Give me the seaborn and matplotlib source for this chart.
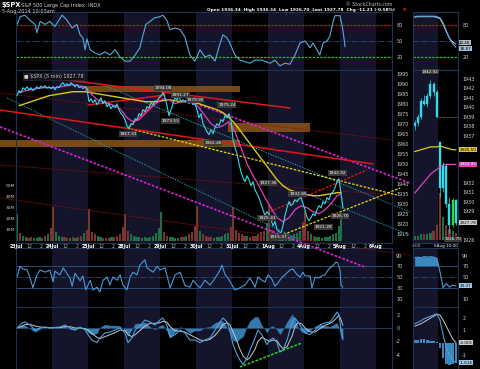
import numpy as np
import pandas as pd
import matplotlib
matplotlib.use("Agg")
import matplotlib.pyplot as plt
from matplotlib.patches import Rectangle
import seaborn as sns

sns.set_theme(style="dark")
plt.rcParams['font.family'] = ['DejaVu Sans']

# ---------------- DATA ----------------
days = ["23Jul", "24Jul", "25Jul", "28Jul", "29Jul", "30Jul", "31Jul", "1Aug", "4Aug", "5Aug", "6Aug"]

# price, 18 samples per trading day
p_0723 = [1984, 1986.5, 1985.5, 1988, 1987, 1988.5, 1987, 1988, 1986.5, 1987.5, 1988.5, 1987.5, 1988.8, 1988, 1989, 1987.8, 1988.5, 1987.5]
p_0724 = [1988.5, 1987, 1988.5, 1988, 1989.5, 1990.5, 1989, 1990, 1989, 1990.5, 1989.5, 1988.5, 1989.5, 1988, 1988.5, 1987.5, 1988.5, 1987.5]
p_0725 = [1981, 1982.5, 1980.5, 1982, 1979.5, 1981, 1983, 1980, 1981.5, 1978.5, 1980, 1977.5, 1979, 1978, 1980, 1977, 1975, 1974]
p_0728 = [1972, 1969, 1967.5, 1970, 1969.5, 1972.5, 1972, 1975, 1974, 1977, 1976, 1978.5, 1978, 1980.5, 1979.5, 1981.5, 1981, 1983]
p_0729 = [1984, 1985.5, 1983, 1979, 1974, 1977, 1980, 1983, 1982, 1983.5, 1981, 1982, 1981, 1982.5, 1980, 1981.5, 1979.5, 1980]
p_0730 = [1977, 1973, 1975, 1970, 1968, 1966, 1964.5, 1967, 1965, 1968, 1970, 1969, 1972, 1971, 1974, 1973, 1975, 1972]
p_0731 = [1962, 1958, 1955, 1950, 1946, 1943, 1941, 1944, 1942, 1939, 1941, 1937, 1935, 1933, 1930, 1927, 1924, 1926]
p_0801 = [1925, 1922, 1919, 1921, 1917, 1916, 1915.5, 1919, 1924, 1928, 1931, 1929, 1930, 1932, 1931, 1932.5, 1933, 1930]
p_0804 = [1927, 1923, 1921.5, 1923, 1925, 1924, 1927, 1929, 1928, 1931, 1930, 1933, 1932, 1935, 1936, 1938, 1941, 1942.5]
p_0805 = [1935, 1927.78]

# moving averages, 6 samples per day
ma_fast = [1985.5, 1986.5, 1987, 1987.5, 1988, 1988,
           1988, 1988.5, 1989, 1989.5, 1989, 1988.5,
           1985, 1982, 1981, 1980, 1979, 1977,
           1973, 1971, 1972, 1975, 1978, 1980.5,
           1982.5, 1982, 1980, 1981, 1981, 1981,
           1978, 1974, 1970, 1968, 1969, 1971,
           1966, 1958, 1950, 1944, 1939, 1933,
           1928, 1923, 1921, 1923, 1927, 1929,
           1928, 1926, 1925, 1927, 1930, 1934,
           1935]
ma_slow = [1979, 1980, 1981, 1982, 1983, 1984,
           1984.5, 1985, 1985.5, 1986, 1986, 1986,
           1985.5, 1985, 1984.5, 1984, 1983.5, 1983,
           1982.5, 1982, 1981.5, 1981, 1981, 1981,
           1981.5, 1982, 1981.5, 1981, 1981, 1980.5,
           1980, 1979, 1978, 1977, 1975.5, 1973,
           1970, 1966, 1962, 1958, 1954, 1950,
           1946, 1942, 1939, 1937, 1936, 1935,
           1934.5, 1934, 1934, 1934.5, 1935, 1935.5,
           1935.5]

# volume (millions), 13 half-hour bars per day
vol_days = [
    [25, 7, 5, 4, 3, 4, 3, 3, 4, 3, 5, 6, 12],
    [31, 8, 5, 4, 4, 3, 3, 4, 3, 4, 5, 7, 10],
    [29, 8, 6, 5, 4, 3, 3, 3, 4, 4, 5, 6, 13],
    [25, 9, 6, 5, 4, 4, 3, 4, 3, 4, 5, 7, 12],
    [26, 8, 5, 4, 4, 3, 3, 4, 4, 5, 6, 8, 14],
    [32, 9, 6, 5, 4, 4, 3, 4, 4, 5, 6, 7, 13],
    [31, 10, 7, 6, 5, 5, 4, 5, 5, 6, 8, 9, 16],
    [33, 10, 7, 6, 5, 5, 4, 5, 5, 6, 7, 9, 17],
    [27, 9, 6, 5, 4, 4, 3, 4, 4, 5, 6, 7, 14],
    [25],
]
vol_ticks = [10, 20, 30, 40, 50]

# top indicator
top_t = [0.03, 0.11, 0.25, 0.39, 0.53, 0.58, 0.67, 0.81, 0.94, 1.08, 1.28, 1.42, 1.56, 1.69, 1.78, 1.86, 1.92, 1.97,
         2.06, 2.19, 2.33, 2.47, 2.61, 2.75, 2.89, 3.03, 3.17, 3.31, 3.44, 3.53, 3.61, 3.72, 3.86, 4.0, 4.08, 4.19,
         4.28, 4.42, 4.56, 4.69, 4.83, 4.97, 5.11, 5.25, 5.39, 5.53, 5.67, 5.75, 5.86, 5.94, 6.08, 6.22, 6.36, 6.5,
         6.64, 6.83, 7.06, 7.19, 7.33, 7.47, 7.61, 7.75, 7.89, 8.03, 8.17, 8.25, 8.36, 8.44, 8.53, 8.64, 8.72, 8.81,
         8.86, 9.0, 9.08, 9.14]
top_v = [82, 97, 100, 90, 82, 66, 88, 82, 88, 78, 100, 90, 75, 82, 62, 56, 33, 54,
         33, 27, 23, 29, 23, 33, 19, 11, 11, 23, 37, 62, 82, 88, 95, 97, 100, 90,
         72, 75, 72, 58, 23, 11, 33, 19, 23, 11, 46, 62, 56, 46, 23, 13, 10, 7,
         13, 13, 7, 13, 2, 7, 5, 23, 46, 50, 37, 46, 33, 23, 46, 50, 60, 88,
         99, 99, 72, 39]

# RSI
rsi_t = [0.03, 0.11, 0.19, 0.31, 0.39, 0.47, 0.58, 0.67, 0.81, 0.94, 1.03, 1.08, 1.22, 1.31, 1.42, 1.5, 1.56, 1.64,
         1.78, 1.86, 1.94, 2.06, 2.14, 2.25, 2.33, 2.42, 2.53, 2.61, 2.69, 2.81, 2.89, 2.97, 3.08, 3.17, 3.25, 3.36,
         3.44, 3.58, 3.64, 3.72, 3.81, 3.92, 4.0, 4.14, 4.28, 4.42, 4.56, 4.69, 4.83, 4.92, 5.03, 5.11, 5.25, 5.39,
         5.53, 5.67, 5.72, 5.81, 5.89, 6.0, 6.08, 6.22, 6.36, 6.5, 6.64, 6.72, 6.83, 6.92, 7.0, 7.11, 7.19, 7.28,
         7.39, 7.47, 7.61, 7.69, 7.81, 7.89, 7.97, 8.03, 8.17, 8.22, 8.31, 8.39, 8.5, 8.58, 8.67, 8.72, 8.81, 8.89,
         8.94, 9.0, 9.03, 9.08]
rsi_v = [50, 70, 65, 63, 48, 30, 54, 63, 59, 63, 41, 61, 54, 67, 56, 48, 33, 57,
         43, 52, 26, 44, 26, 31, 22, 44, 50, 35, 50, 44, 54, 35, 26, 50, 59, 54,
         72, 82, 67, 63, 59, 70, 63, 67, 30, 54, 59, 35, 31, 44, 35, 30, 44, 35,
         48, 63, 72, 54, 48, 35, 26, 30, 35, 48, 31, 50, 44, 41, 54, 46, 33, 39,
         50, 54, 63, 65, 54, 50, 59, 52, 52, 30, 50, 48, 52, 54, 63, 67, 72, 78,
         76, 63, 35, 31]

# MACD
macd_t = [0.03, 0.17, 0.25, 0.39, 0.53, 0.67, 0.81, 0.94, 1.22, 1.36, 1.5, 1.64, 1.78, 1.92, 2.0, 2.11, 2.25, 2.33,
          2.47, 2.61, 2.75, 2.89, 3.03, 3.11, 3.22, 3.31, 3.44, 3.58, 3.72, 3.86, 4.0, 4.08, 4.19, 4.28, 4.42, 4.56,
          4.69, 4.83, 4.97, 5.11, 5.25, 5.39, 5.53, 5.67, 5.75, 5.86, 5.94, 6.03, 6.14, 6.22, 6.31, 6.42, 6.5, 6.64,
          6.72, 6.83, 6.97, 7.06, 7.14, 7.25, 7.33, 7.42, 7.53, 7.67, 7.75, 7.83, 7.94, 8.03, 8.17, 8.31, 8.44, 8.58,
          8.72, 8.81, 8.92, 8.97, 9.03, 9.08]
macd_v = [0, 0.75, 0.9, 0.45, -0.3, 0, 0.15, 0, 0.15, 0.45, 0, -0.3, 0.15, -0.3, -1, -1.8, -2.2, -1.5,
          -0.75, -0.6, -0.3, 0, -0.75, -2.2, -1.5, -0.3, 0.3, 1.2, 0.9, 0.45, 1.2, 1.5, 0.45, -1.35, -1, -0.3,
          -0.75, -1.8, -1.8, -2.2, -1.8, -1.5, -0.3, 0.9, 1.5, 0.9, -0.3, -2.5, -4, -4.8, -5.5, -4.5, -3.3, -1.5,
          -0.3, -1, -2.5, -1.8, -1.5, -2.2, -3.6, -3.3, -1.8, 0.9, 1.5, 0.9, 0, -0.75, -1, -0.3, 0.45, 0.75,
          0.9, 1.5, 2.4, 2, -0.3, -1.5]
signal_v = [0, 0.3, 0.5, 0.55, 0.3, 0.15, 0.1, 0.05, 0.05, 0.2, 0.2, 0, 0, -0.1, -0.3, -0.8, -1.4, -1.6,
            -1.3, -1.0, -0.7, -0.3, -0.4, -1.0, -1.3, -1.0, -0.4, 0.3, 0.7, 0.7, 0.8, 1.0, 0.9, 0.2, -0.4, -0.5,
            -0.6, -1.0, -1.4, -1.8, -1.9, -1.7, -1.1, -0.2, 0.5, 0.8, 0.5, -0.6, -2.0, -3.2, -4.2, -4.8, -4.4, -3.2,
            -2.0, -1.4, -1.8, -2.0, -1.8, -1.9, -2.6, -3.1, -2.8, -1.2, 0.2, 0.8, 0.6, 0.0, -0.6, -0.6, -0.1, 0.4,
            0.7, 1.0, 1.6, 1.9, 1.2, 0.4]

# mini chart (4Aug afternoon + 5Aug open)
mini_open = [1938.0, 1938.3, 1939.0, 1940.7, 1940.3, 1941.2, 1942.5, 1941.6, 1936.3, 1931.5, 1933.8, 1929.8, 1927.5, 1930.2]
mini_high = [1938.6, 1939.3, 1941.0, 1941.3, 1941.5, 1942.92, 1942.7, 1941.8, 1936.34, 1934.2, 1934.0, 1930.5, 1930.4, 1930.3]
mini_low = [1937.6, 1938.0, 1938.8, 1940.2, 1940.0, 1941.0, 1941.2, 1939.0, 1930.5, 1931.0, 1929.4, 1926.70, 1927.3, 1927.5]
mini_close = [1938.3, 1939.0, 1940.7, 1940.3, 1941.2, 1942.5, 1941.6, 1939.0, 1931.5, 1933.8, 1929.8, 1927.5, 1930.2, 1927.78]
mini_ma_slow = [1935.3, 1935.4, 1935.5, 1935.6, 1935.7, 1935.8, 1935.8, 1935.8, 1935.9, 1935.8, 1935.7, 1935.6, 1935.5, 1935.5]
mini_ma_fast = [1930.9, 1931.3, 1931.7, 1932.1, 1932.5, 1932.9, 1933.2, 1933.4, 1933.7, 1933.9, 1933.95, 1933.95, 1933.95, 1933.95]
mini_vol = [2, 2, 3, 3, 3, 4, 5, 8, 25, 12, 8, 6, 5, 4]
mini_top_a = [97, 98, 98, 98, 98, 98, 98, 97, 95, 85, 70, 55, 45, 38]
mini_top_b = [96, 97, 97, 97, 97, 97, 97, 96, 93, 82, 68, 56, 48, 44]
mini_rsi = [86, 87, 86, 88, 87, 88, 87, 85, 60, 30, 38, 31, 35, 33.37]
mini_macd = [1.5, 1.6, 1.75, 1.9, 2.0, 2.1, 2.2, 2.3, 1.8, 0.6, -0.4, -1.0, -1.4, -1.614]
mini_signal = [1.3, 1.4, 1.5, 1.65, 1.8, 1.95, 2.1, 2.25, 2.2, 1.8, 1.3, 0.8, 0.3, -0.001]

# drawn trendlines: (t0, p0, t1, p1)
red_lines = [(1.42, 1991.85, 7.61, 1977.85), (-0.44, 1976.85, 9.92, 1949.85),
             (3.11, 1967.85, 4.14, 1985.35), (2.0, 1979.35, 4.14, 1984.35)]
red_dash_lines = [(6.97, 1925.35, 9.75, 1946.85)]
darkred_lines = [(-0.44, 1985.35, 10.44, 1961.85), (-0.44, 1949.35, 10.44, 1934.35),
                 (-0.44, 1932.85, 10.94, 1904.35)]
magenta_lines = [(5.11, 1979.35, 10.94, 1940.35), (-0.44, 1968.35, 9.69, 1898.35)]
teal_lines = [(-0.25, 1982.85, 7.89, 1911.85), (2.42, 1989.35, 10.94, 1925.85), (8.17, 1934.35, 10.94, 1914.35)]
yellow_lines = [(3.08, 1967.85, 10.58, 1934.35), (7.33, 1913.85, 10.67, 1937.85)]
zones = [(1.92, 6.22, 1985.85, 1988.85), (5.89, 8.17, 1965.85, 1970.35), (-0.44, 6.22, 1958.35, 1961.85)]
price_labels = [("1994.08", 4.08, 1987.9), ("1991.27", 4.56, 1984.4), ("1979.90", 4.97, 1981.9),
                ("1975.24", 5.86, 1979.4), ("1973.53", 4.28, 1971.4), ("1967.31", 3.11, 1964.9),
                ("1962.46", 5.47, 1960.4), ("1927.36", 7.0, 1940.4), ("1932.85", 7.83, 1934.9),
                ("1925.41", 6.97, 1922.9), ("1921.28", 8.53, 1918.4), ("1915.37", 7.28, 1913.4),
                ("1942.92", 8.92, 1945.4), ("1926.70", 9.0, 1923.9)]

# ---------------- FIGURE ----------------
W, H = 480, 369
fig = plt.figure(figsize=(4.8, 3.69), dpi=100, facecolor='black')
SP = '#1d3352'
SHADE = '#14142a'
TXT = '#d0d0d0'
FS = 3.5


def axpx(x0, y0, x1, y1, face='black'):
    ax = fig.add_axes([x0 / W, 1 - y1 / H, (x1 - x0) / W, (y1 - y0) / H])
    ax.set_facecolor(face)
    ax.grid(False)
    for s in ax.spines.values():
        s.set_color(SP)
        s.set_linewidth(0.8)
    ax.set_xticks([])
    ax.set_yticks([])
    return ax


def right_labels(ax, ticks, labels=None):
    ax.yaxis.tick_right()
    ax.set_yticks(ticks)
    ax.set_yticklabels(labels if labels is not None else [str(t) for t in ticks])
    ax.tick_params(axis='y', colors=TXT, labelsize=FS, length=0, pad=3)


LX0, LX1 = 16, 392
RX0, RX1 = 413, 458
XMAX = (LX1 - LX0) / 36.0


def shade_days(ax):
    for d in range(1, 11, 2):
        ax.axvspan(d, d + 1, color=SHADE, lw=0, zorder=0)


# --- top indicator
ax_top = axpx(LX0, 12, LX1, 70)
ax_top.set_xlim(0, XMAX)
ax_top.set_ylim(-6.1, 106.1)
shade_days(ax_top)
ax_top.axhline(80, color='#d01010', ls=(0, (2, 1)), lw=0.9)
ax_top.axhline(50, color='#2a4d78', ls='-.', lw=0.6)
ax_top.axhline(20, color='#20c020', ls=(0, (2, 1)), lw=0.9)
sns.lineplot(x=top_t, y=top_v, ax=ax_top, color='#5aa8e0', lw=0.8, estimator=None, sort=False)
right_labels(ax_top, [20, 50, 80])

# --- volume + shading under price
ax_vol = axpx(LX0, 70, LX1, 243)
ax_vol.set_xlim(0, XMAX)
ax_vol.set_ylim(-1.8, 155.5)
shade_days(ax_vol)
all_price = p_0723 + p_0724 + p_0725 + p_0728 + p_0729 + p_0730 + p_0731 + p_0801 + p_0804
pt = [d + (k + 0.5) / 18 for d in range(9) for k in range(18)]
vt, vv, vc = [], [], []
for d, vals in enumerate(vol_days):
    for k, v in enumerate(vals):
        vt.append(d + (k + 0.5) / 13)
        vv.append(v)
for t in vt:
    a = np.interp(t - 0.5 / 13, pt, all_price)
    b = np.interp(t + 0.5 / 13, pt, all_price)
    vc.append('#1b7246' if b >= a else '#7a3530')
ax_vol.bar(vt, vv, width=1 / 13 * 0.8, color=vc, lw=0, zorder=2)
for v in vol_ticks:
    ax_vol.annotate(f"{v}M", xy=(0, v), xycoords=ax_vol.get_yaxis_transform(), xytext=(-1, 0),
                    textcoords='offset points', ha='right', va='center', color=TXT, fontsize=3.2,
                    annotation_clip=False)

# --- price axes (transparent, above everything)
ax_p = axpx(LX0, 70, LX1, 243, face='none')
ax_p.set_zorder(20)
ax_p.set_xlim(0, XMAX)
ax_p.set_ylim(1910.35, 1996.85)

for (t0, t1, pa, pb) in zones:
    ax_p.add_patch(Rectangle((t0, pa), t1 - t0, pb - pa, color='#8a5518', alpha=0.85, lw=0, clip_on=False, zorder=1))


def seg(lines, **kw):
    for (t0, p0, t1, p1) in lines:
        ax_p.plot([t0, t1], [p0, p1], clip_on=False, **kw)


seg(darkred_lines, color='#8c1010', lw=0.7, ls=(0, (1.5, 1.2)), zorder=2)
seg(teal_lines, color='#1c9aa8', lw=0.7, ls=(0, (1.5, 1.2)), zorder=2)
seg(magenta_lines, color='#e020e0', lw=1.2, ls=(0, (1.5, 1)), zorder=3)
seg(yellow_lines, color='#e8dc10', lw=0.9, ls=(0, (2, 1.2)), zorder=3)
seg(red_lines, color='#e01818', lw=1.1, zorder=3)
seg(red_dash_lines, color='#e01818', lw=0.9, ls=(0, (2, 1.2)), zorder=3)

ma_t = [d + (k + 0.5) / 6 for d in range(9) for k in range(6)] + [9.03]
sns.lineplot(x=ma_t, y=ma_slow, ax=ax_p, color='#d8c81c', lw=1.0, estimator=None, sort=False, zorder=4)
sns.lineplot(x=ma_t, y=ma_fast, ax=ax_p, color='#e040c0', lw=0.9, estimator=None, sort=False, zorder=4)
price_t = pt + [9 + 0.5 / 18, 9 + 1.5 / 18]
price_v = all_price + p_0805
sns.lineplot(x=price_t, y=price_v, ax=ax_p, color='#35d8e8', lw=0.8, estimator=None, sort=False, zorder=5)

for txt, t, p in price_labels:
    ax_p.text(t, p, txt, color='white', fontsize=3.1, ha='center', va='center', zorder=6,
              bbox=dict(boxstyle='square,pad=0.15', fc='#3a3a3a', ec='none'))

ax_p.text(0.02, 0.975, "\u25a0 $SPX (5 min) 1927.78", transform=ax_p.transAxes, color=TXT, fontsize=3.5,
          va='top', ha='left', bbox=dict(boxstyle='square,pad=0.2', fc='#101018', ec='#333344', lw=0.4))
right_labels(ax_p, list(range(1915, 2000, 5)))

# x labels
ticks, labs = [], []
for d, name in enumerate(days):
    ticks += [d, d + 2.5 / 6.5, d + 4.5 / 6.5]
    labs += [name, "12", "2"]
for t, l in zip(ticks, labs):
    if t <= XMAX - 0.2:
        ax_p.text(t, -0.006, l, transform=ax_p.get_xaxis_transform(), ha='center', va='top',
                  color='white' if len(l) > 2 else '#b0b0b0', fontsize=3.4,
                  fontweight='bold' if len(l) > 2 else 'normal')

# --- RSI
ax_r = axpx(LX0, 248, LX1, 307)
ax_r.set_xlim(0, XMAX)
ax_r.set_ylim(-5.8, 104)
shade_days(ax_r)
ax_r.axhline(70, color='#2a4d78', lw=0.7)
ax_r.axhline(30, color='#2a4d78', lw=0.7)
ax_r.axhline(50, color='#2a4d78', ls='-.', lw=0.6)
sns.lineplot(x=rsi_t, y=rsi_v, ax=ax_r, color='#4a9ad8', lw=0.8, estimator=None, sort=False)
right_labels(ax_r, [10, 30, 50, 70, 90])

# --- MACD
ax_m = axpx(LX0, 307, LX1, 369)
ax_m.set_xlim(0, XMAX)
ax_m.set_ylim(-6.15, 3.15)
shade_days(ax_m)
hist = np.array(macd_v) - np.array(signal_v)
ax_m.fill_between(macd_t, 0, hist, color='#3a88c0', lw=0, alpha=0.9)
ax_m.axhline(0, color='#2a4d78', lw=0.5)
sns.lineplot(x=macd_t, y=signal_v, ax=ax_m, color='#c8c8c8', lw=0.7, estimator=None, sort=False)
sns.lineplot(x=macd_t, y=macd_v, ax=ax_m, color='#4aa0e0', lw=0.8, estimator=None, sort=False)
ax_m.plot([6.22, 7.94], [-5.85, -2.25], color='#30e030', lw=1.0, ls=(0, (2, 1)))
right_labels(ax_m, [-4, -2, 0, 2])

# ---------------- MINI CHARTS ----------------
n = len(mini_close)
mx = np.arange(n)
MXL = (-0.5, n - 0.3)


def mshade(ax):
    ax.axvspan(-0.5, 7.5, color=SHADE, lw=0, zorder=0)


def value_box(ax, val, txt, fc, tc='black'):
    ax.text(1.03, val, txt, transform=ax.get_yaxis_transform(), color=tc, fontsize=3.0, va='center',
            ha='left', bbox=dict(boxstyle='square,pad=0.12', fc=fc, ec='none'), zorder=30)


am_top = axpx(RX0, 12, RX1, 70)
am_top.set_xlim(*MXL)
am_top.set_ylim(-6.1, 106.1)
mshade(am_top)
am_top.axhline(80, color='#d01010', ls=(0, (2, 1)), lw=0.9)
am_top.axhline(50, color='#2a4d78', ls='-.', lw=0.6)
am_top.axhline(20, color='#20c020', ls=(0, (2, 1)), lw=0.9)
sns.lineplot(x=mx, y=mini_top_b, ax=am_top, color='#c8c8c8', lw=0.7, estimator=None)
sns.lineplot(x=mx, y=mini_top_a, ax=am_top, color='#5aa8e0', lw=0.8, estimator=None)
right_labels(am_top, [20, 80])
value_box(am_top, mini_top_b[-1] + 3, "44.48", '#bbbbbb')
value_box(am_top, mini_top_a[-1] - 3, "38.87", '#9fc4e0')

am_v = axpx(RX0, 70, RX1, 243)
am_v.set_xlim(*MXL)
am_v.set_ylim(-1.5, 90)
mshade(am_v)
mcol = ['#1b7246' if c >= o else '#7a3530' for o, c in zip(mini_open, mini_close)]
am_v.bar(mx, mini_vol, width=0.7, color=mcol, lw=0)

am_p = axpx(RX0, 70, RX1, 243, face='none')
am_p.set_zorder(20)
am_p.set_xlim(*MXL)
am_p.set_ylim(1925.63, 1943.94)
sns.lineplot(x=mx, y=mini_ma_slow, ax=am_p, color='#d8c81c', lw=0.9, estimator=None)
sns.lineplot(x=mx, y=mini_ma_fast, ax=am_p, color='#e040c0', lw=0.9, estimator=None)
am_p.plot([7, n - 0.3], [mini_close[7], mini_close[7]], color='#aaaaaa', lw=0.5, ls=(0, (1, 1)))
for i in range(n):
    c = '#30e030' if i == 12 else '#35d8e8'
    am_p.vlines(mx[i], mini_low[i], mini_high[i], color=c, lw=0.5)
    lo, hi = sorted([mini_open[i], mini_close[i]])
    am_p.add_patch(Rectangle((mx[i] - 0.3, lo), 0.6, max(hi - lo, 0.08), fc=c, ec=c, lw=0.3))
am_p.text(5, 1942.92 + 0.6, "1942.92", color='white', fontsize=3.0, ha='center', va='bottom',
          bbox=dict(boxstyle='square,pad=0.12', fc='#3a3a3a', ec='none'))
am_p.text(n - 1.8, 1926.05, "1926.70", color='white', fontsize=3.0, ha='center', va='center',
          bbox=dict(boxstyle='square,pad=0.12', fc='#3a3a3a', ec='none'))
mt = [v for v in range(1926, 1944) if v not in (1927, 1928, 1933, 1934, 1935, 1936)]
right_labels(am_p, mt)
value_box(am_p, mini_ma_slow[-1], "1935.50", '#d8c81c')
value_box(am_p, mini_ma_fast[-1], "1933.95", '#e040c0', 'white')
value_box(am_p, mini_close[-1], "1927.78", '#cccccc')
fig.text(412 / W, 1 - 244 / H, "3:00", color=TXT, fontsize=3.0, ha='left', va='top')
fig.text(458 / W, 1 - 244 / H, "5Aug 10:00", color='white', fontsize=3.0, ha='right', va='top')

am_r = axpx(RX0, 248, RX1, 307)
am_r.set_xlim(*MXL)
am_r.set_ylim(-5.8, 104)
mshade(am_r)
am_r.axhline(70, color='#2a4d78', lw=0.7)
am_r.axhline(30, color='#2a4d78', lw=0.7)
am_r.axhline(50, color='#2a4d78', ls='-.', lw=0.6)
am_r.fill_between(mx, 70, mini_rsi, where=np.array(mini_rsi) > 70, color='#3a88c0', lw=0, interpolate=True)
sns.lineplot(x=mx, y=mini_rsi, ax=am_r, color='#4a9ad8', lw=0.8, estimator=None)
right_labels(am_r, [10, 50, 70, 90])
value_box(am_r, mini_rsi[-1], "33.37", '#9fc4e0')

am_m = axpx(RX0, 307, RX1, 369)
am_m.set_xlim(*MXL)
am_m.set_ylim(-2.12, 2.84)
mshade(am_m)
mh = np.array(mini_macd) - np.array(mini_signal)
am_m.bar(mx, mh, width=0.8, color='#3a88c0', lw=0)
sns.lineplot(x=mx, y=mini_signal, ax=am_m, color='#c8c8c8', lw=0.7, estimator=None)
sns.lineplot(x=mx, y=mini_macd, ax=am_m, color='#4aa0e0', lw=0.8, estimator=None)
right_labels(am_m, [-1, 1, 2])
value_box(am_m, mini_signal[-1], "-0.001", '#cccccc')
value_box(am_m, mini_macd[-1], "-1.614", '#9fc4e0')

# ---------------- HEADER ----------------
fig.text(2 / W, 1 - 5 / H, "$SPX", color='white', fontsize=4.8, fontweight='bold', va='center')
fig.text(21 / W, 1 - 5 / H, "S&P 500 Large Cap Index  INDX", color='#cfcfcf', fontsize=3.6, va='center')
fig.text(2 / W, 1 - 11.5 / H, "5-Aug-2014 10:03am", color='#cfcfcf', fontsize=3.6, va='center')
fig.text(207 / W, 1 - 10.5 / H, "Open 1936.34  High 1936.34  Low 1926.70  Last 1927.78  Chg -11.21 (-0.58%)",
         color='white', fontsize=3.1, va='center', fontweight='bold')
fig.text(403 / W, 1 - 10.5 / H, "\u25bc", color='#e02020', fontsize=3.0, va='center')
fig.text(392 / W, 1 - 4.5 / H, "\u00a9 StockCharts.com", color='#bbbbbb', fontsize=3.4, va='center', ha='right')

fig.savefig("out.png", dpi=100, facecolor='black')
